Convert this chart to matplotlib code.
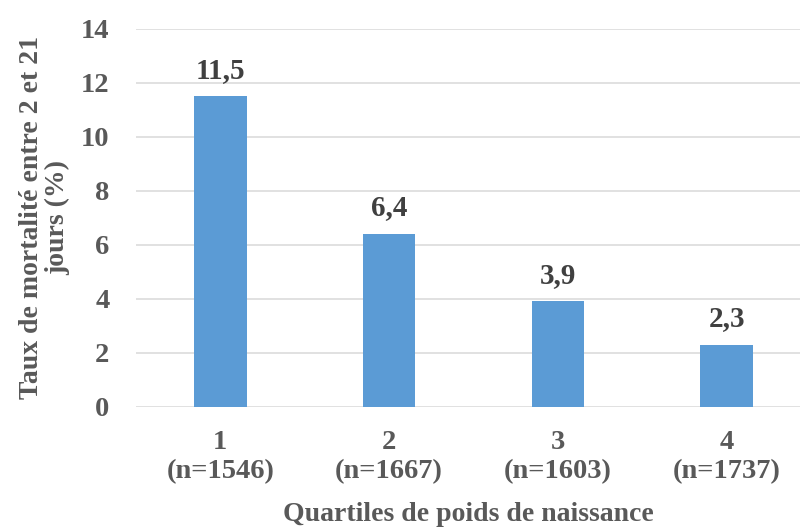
import numpy as np
import matplotlib; matplotlib.use("Agg"); import matplotlib.pyplot as plt
plt.rcParams.update({"font.family":"Liberation Serif","font.weight":"bold","font.size":20})

quartiles=["1","2","3","4"]
effectifs=[1546,1667,1603,1737]
mortalite=[11.5,6.4,3.9,2.3]
yticks=[0,2,4,6,8,10,12,14]

GREY="#595959"; DARK="#404040"; BLUE="#5B9BD5"
fig=plt.figure(figsize=(8,5.28),dpi=100)
ax=fig.add_axes([136/800,121.3/528,1-136/800,(499-121.3)/528])
x=np.arange(len(quartiles))
bars=ax.bar(x,mortalite,width=0.31,color=BLUE,zorder=3)
for xi,v in zip(x,mortalite):
    ax.annotate(f"{v:.1f}".replace(".",","),(xi,v),xytext=(0,9),textcoords="offset points",
                ha="center",va="bottom",color=DARK,fontsize=21,fontweight="bold")
ax.set_xlim(-0.5,3.435); ax.set_ylim(0,14)
ax.set_yticks(yticks); ax.yaxis.grid(True,color="#d9d9d9",lw=1.1,zorder=0)
ax.set_xticks(x,[f"{q}\n(n={n})" for q,n in zip(quartiles,effectifs)])
ax.tick_params(axis="both",length=0,colors=GREY,labelsize=20.5)
ax.tick_params(axis="y",pad=19); ax.tick_params(axis="x",pad=17)
for s in ax.spines.values(): s.set_visible(False)
ax.set_xlabel("Quartiles de poids de naissance",color=GREY,fontsize=20,fontweight="bold",labelpad=13)
ax.set_ylabel("Taux de mortalité entre 2 et 21\njours (%)",color=GREY,fontsize=20,fontweight="bold",labelpad=8,linespacing=1.05)
fig.savefig("out.png",dpi=100)
